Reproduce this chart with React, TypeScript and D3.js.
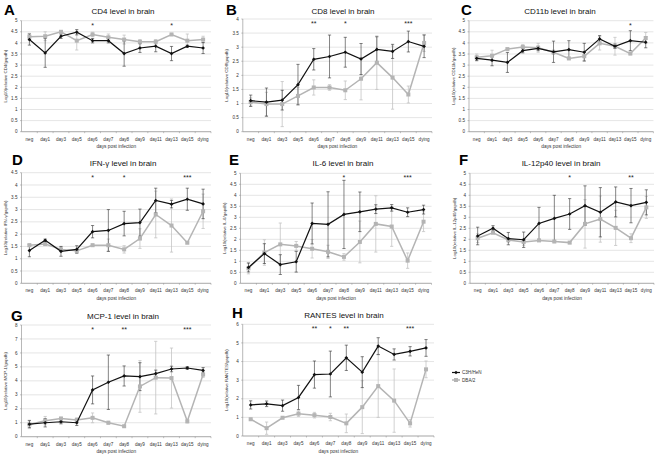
import React from "react";
import * as d3 from "d3";

const categories = ["neg", "day1", "day3", "day5", "day6", "day7", "day8", "day9", "day11", "day13", "day15", "dying"];
const seriesNames = ["C3H/HeN", "DBA/2"];

// A: CD4
const cd4C3H = [4.15, 3.55, 4.3, 4.48, 4.1, 4.1, 3.52, 3.77, 3.85, 3.52, 3.85, 3.77];
const cd4C3HErr = [0.25, 0.65, 0.1, 0.12, 0.1, 0.1, 0.57, 0.2, 0.25, 0.32, 0.05, 0.25];
const cd4DBA = [4.28, 4.3, 4.5, 4.1, 4.38, 4.25, 4.15, 4.05, 4.05, 4.38, 4.1, 4.15];
const cd4DBAErr = [0.15, 0.2, 0.05, 0.42, 0.1, 0.15, 0.2, 0.1, 0.1, 0.05, 0.3, 0.15];
const cd4Stars = ["", "", "", "", "*", "", "", "", "", "*", "", ""];

// B: CD8
const cd8C3H = [1.1, 1.05, 1.12, 1.67, 2.57, 2.67, 2.82, 2.58, 2.92, 2.85, 3.2, 3.03];
const cd8C3HErr = [0.2, 0.5, 0.35, 0.72, 0.38, 0.76, 0.53, 0.55, 0.45, 0.25, 0.37, 0.4];
const cd8DBA = [1.05, 0.98, 0.98, 1.27, 1.57, 1.57, 1.47, 1.88, 2.45, 1.92, 1.32, 3.15];
const cd8DBAErr = [0.15, 0.42, 0.8, 0.3, 0.27, 0.1, 0.33, 0.75, 0.95, 1.12, 0.3, 0.3];
const cd8Stars = ["", "", "", "", "**", "", "*", "", "", "", "***", ""];

// C: CD11b
const cd11bC3H = [3.3, 3.22, 3.12, 3.65, 3.75, 3.6, 3.7, 3.58, 4.18, 3.85, 4.1, 4.03];
const cd11bC3HErr = [0.1, 0.25, 0.45, 0.1, 0.1, 0.48, 0.4, 0.4, 0.15, 0.1, 0.45, 0.25];
const cd11bDBA = [3.35, 3.42, 3.72, 3.82, 3.78, 3.58, 3.3, 3.4, 3.98, 3.85, 3.52, 4.22];
const cd11bDBAErr = [0.15, 0.25, 0.05, 0.1, 0.2, 0.1, 0.05, 0.2, 0.3, 0.4, 0.05, 0.25];
const cd11bStars = ["", "", "", "", "", "", "", "", "", "", "*", ""];

// D: IFN-γ
const ifnC3H = [1.33, 1.75, 1.3, 1.38, 2.1, 2.15, 2.43, 2.47, 3.37, 3.22, 3.42, 3.23];
const ifnC3HErr = [0.25, 0.05, 0.2, 0.15, 0.25, 0.85, 0.5, 0.55, 0.5, 0.15, 0.45, 0.6];
const ifnDBA = [1.55, 1.6, 1.38, 1.32, 1.55, 1.55, 1.38, 1.82, 2.8, 2.35, 1.65, 2.93];
const ifnDBAErr = [0.05, 0.05, 0.1, 0.1, 0.05, 0.25, 0.15, 0.4, 0.95, 1.08, 0.03, 0.7];
const ifnStars = ["", "", "", "", "*", "", "*", "", "", "", "***", ""];

// E: IL-6
const il6C3H = [0.72, 1.35, 0.85, 0.98, 2.72, 2.68, 3.13, 3.25, 3.37, 3.43, 3.23, 3.35];
const il6C3HErr = [0.2, 0.45, 0.45, 0.47, 0.93, 1.48, 1.55, 0.9, 0.2, 0.15, 0.2, 0.2];
const il6DBA = [0.68, 1.4, 1.77, 1.7, 1.57, 1.43, 1.2, 1.88, 2.7, 2.58, 1.03, 2.8];
const il6DBAErr = [0.25, 0.58, 0.97, 0.2, 0.42, 0.3, 0.15, 0.95, 1.28, 0.9, 0.35, 0.45];
const il6Stars = ["", "", "", "", "", "", "*", "", "", "", "***", ""];

// F: IL-12p40
const il12C3H = [2.15, 2.5, 2.03, 1.98, 2.72, 2.95, 3.15, 3.53, 3.23, 3.7, 3.53, 3.68];
const il12C3HErr = [0.4, 0.12, 0.28, 0.35, 0.73, 1.05, 0.7, 0.9, 1.12, 0.68, 0.78, 0.57];
const il12DBA = [2.05, 2.3, 1.97, 1.88, 1.95, 1.9, 1.85, 2.7, 2.92, 2.52, 2.05, 3.45];
const il12DBAErr = [0.2, 0.05, 0.1, 0.15, 0.05, 0.05, 0.05, 1.1, 1.05, 0.8, 0.2, 0.5];
const il12Stars = ["", "", "", "", "", "", "*", "", "", "", "**", ""];

// G: MCP-1
const mcpC3H = [0.9, 1.0, 1.07, 1.0, 3.35, 3.9, 4.35, 4.3, 4.52, 4.85, 4.92, 4.75];
const mcpC3HErr = [0.25, 0.3, 0.15, 0.2, 1.0, 1.95, 0.72, 1.0, 0.25, 0.2, 0.1, 0.2];
const mcpDBA = [0.88, 1.15, 1.3, 1.2, 1.35, 1.0, 0.75, 3.6, 4.23, 4.2, 1.1, 4.45];
const mcpDBAErr = [0.3, 0.3, 0.1, 0.15, 0.35, 0.1, 0.05, 1.85, 2.6, 2.15, 0.1, 0.2];
const mcpStars = ["", "", "", "", "*", "", "**", "", "", "", "***", ""];

// H: RANTES
const rantesC3H = [1.67, 1.73, 1.63, 2.07, 3.3, 3.33, 4.2, 3.43, 4.83, 4.38, 4.55, 4.73];
const rantesC3HErr = [0.22, 0.15, 0.3, 0.65, 0.73, 1.23, 0.68, 0.83, 0.45, 0.3, 0.25, 0.45];
const rantesDBA = [0.9, 0.42, 0.98, 1.2, 1.12, 1.02, 0.68, 1.55, 2.68, 1.9, 0.68, 3.58];
const rantesDBAErr = [0.05, 0.33, 0.05, 0.15, 0.15, 0.2, 0.5, 1.42, 1.68, 1.7, 0.2, 0.45];
const rantesStars = ["", "", "", "", "**", "*", "**", "", "", "", "***", ""];

const panelLetters = ["A", "B", "C", "D", "E", "F", "G", "H"];
const panelTitles = [
  "CD4 level in brain", "CD8 level in brain", "CD11b level in brain",
  "IFN-γ level in brain", "IL-6 level in brain", "IL-12p40 level in brain",
  "MCP-1 level in brain", "RANTES level in brain",
];
const panelYLabels = [
  "Log10(relative CD4/gapdh)", "Log10(relative CD8/gapdh)", "Log10(relative CD11b/gapdh)",
  "Log10(relative IFN-γ/gapdh)", "Log10(relative IL-6/gapdh)", "Log10(relative IL-12p40/gapdh)",
  "Log10(relative MCP-1/gapdh)", "Log10(relative RANTES/gapdh)",
];
const panelYMax = [5, 4, 5, 4.5, 5, 5, 8, 6];
const panelYStep = [0.5, 0.5, 0.5, 0.5, 0.5, 0.5, 1, 1];

const panelData = [
  { c3h: cd4C3H, c3hErr: cd4C3HErr, dba: cd4DBA, dbaErr: cd4DBAErr, stars: cd4Stars },
  { c3h: cd8C3H, c3hErr: cd8C3HErr, dba: cd8DBA, dbaErr: cd8DBAErr, stars: cd8Stars },
  { c3h: cd11bC3H, c3hErr: cd11bC3HErr, dba: cd11bDBA, dbaErr: cd11bDBAErr, stars: cd11bStars },
  { c3h: ifnC3H, c3hErr: ifnC3HErr, dba: ifnDBA, dbaErr: ifnDBAErr, stars: ifnStars },
  { c3h: il6C3H, c3hErr: il6C3HErr, dba: il6DBA, dbaErr: il6DBAErr, stars: il6Stars },
  { c3h: il12C3H, c3hErr: il12C3HErr, dba: il12DBA, dbaErr: il12DBAErr, stars: il12Stars },
  { c3h: mcpC3H, c3hErr: mcpC3HErr, dba: mcpDBA, dbaErr: mcpDBAErr, stars: mcpStars },
  { c3h: rantesC3H, c3hErr: rantesC3HErr, dba: rantesDBA, dbaErr: rantesDBAErr, stars: rantesStars },
];

// layout: plot rectangles (left, right, top, bottom) and letter/title positions
const layouts = [
  { l: 21.5, r: 211, t: 20.7, b: 131.7, lx: 4, ly: 15, tx: 123, ty: 14 },
  { l: 242.8, r: 432, t: 19, b: 131.7, lx: 226, ly: 15, tx: 343, ty: 14 },
  { l: 469, r: 653.4, t: 20.7, b: 131.7, lx: 461, ly: 15, tx: 560, ty: 14 },
  { l: 21.5, r: 211, t: 172.7, b: 283.3, lx: 12, ly: 165, tx: 123, ty: 166 },
  { l: 240.5, r: 431.5, t: 173.3, b: 283.3, lx: 229, ly: 165, tx: 343, ty: 166 },
  { l: 470, r: 654, t: 173.3, b: 283.3, lx: 459, ly: 165, tx: 561, ty: 166 },
  { l: 21.5, r: 211, t: 325, b: 436.7, lx: 11, ly: 321, tx: 123, ty: 319 },
  { l: 242.7, r: 434, t: 324.3, b: 436, lx: 232, ly: 318, tx: 344, ty: 318 },
];

const FONT = "'Liberation Sans', Arial, sans-serif";
const BLACK = "#111";
const GRAY = "#b4b4b4";

function Panel({ idx }: { idx: number }) {
  const L = layouts[idx];
  const D = panelData[idx];
  const x = d3.scaleBand<string>().domain(categories).range([L.l, L.r]);
  const y = d3.scaleLinear().domain([0, panelYMax[idx]]).range([L.b, L.t]);
  const ticks = d3.range(0, panelYMax[idx] + 1e-9, panelYStep[idx]);
  const cx = (c: string) => (x(c) as number) + x.bandwidth() / 2;
  const line = d3.line<number>().x((_, i) => cx(categories[i])).y((v) => y(v));
  const cap = 1.6;

  const errBars = (vals: number[], errs: number[], color: string, w: number) =>
    vals.map((v, i) => {
      const X = cx(categories[i]);
      const y1 = y(v - errs[i]);
      const y2 = y(v + errs[i]);
      return (
        <g key={i} stroke={color} strokeWidth={w}>
          <line x1={X} x2={X} y1={y1} y2={y2} />
          <line x1={X - cap} x2={X + cap} y1={y1} y2={y1} />
          <line x1={X - cap} x2={X + cap} y1={y2} y2={y2} />
        </g>
      );
    });

  return (
    <g>
      <text x={L.lx} y={L.ly} fontFamily={FONT} fontWeight="bold" fontSize={15} fill="#000">
        {panelLetters[idx]}
      </text>
      <text x={L.tx} y={L.ty} fontFamily={FONT} fontSize={8} textAnchor="middle" fill="#111">
        {panelTitles[idx]}
      </text>
      {ticks.map((t) => (
        <g key={t}>
          <line x1={L.l} x2={L.r} y1={y(t)} y2={y(t)} stroke="#d4d4d4" strokeWidth={0.6} />
          <text x={L.l - 4} y={y(t) + 1.6} fontFamily={FONT} fontSize={4.6} textAnchor="end" fill="#333">
            {String(+t.toFixed(1))}
          </text>
          <line x1={L.l - 1.5} x2={L.l} y1={y(t)} y2={y(t)} stroke="#888" strokeWidth={0.5} />
        </g>
      ))}
      <line x1={L.l} x2={L.l} y1={L.t} y2={L.b} stroke="#888" strokeWidth={0.6} />
      <line x1={L.l} x2={L.r} y1={L.b} y2={L.b} stroke="#888" strokeWidth={0.6} />
      {categories.map((c) => (
        <g key={c}>
          <line x1={(x(c) as number) + x.bandwidth()} x2={(x(c) as number) + x.bandwidth()} y1={L.b} y2={L.b + 1.5} stroke="#888" strokeWidth={0.5} />
          <text x={cx(c)} y={L.b + 9} fontFamily={FONT} fontSize={4.6} textAnchor="middle" fill="#333">
            {c}
          </text>
        </g>
      ))}
      <text x={(L.l + L.r) / 2} y={L.b + 16.5} fontFamily={FONT} fontSize={4.8} textAnchor="middle" fill="#333">
        days post infection
      </text>
      <text
        transform={`translate(${L.l - 14.5},${(L.t + L.b) / 2}) rotate(-90)`}
        fontFamily={FONT}
        fontSize={4.4}
        textAnchor="middle"
        fill="#333"
      >
        {panelYLabels[idx]}
      </text>
      {errBars(D.dba, D.dbaErr, "#c4c4c4", 0.8)}
      {errBars(D.c3h, D.c3hErr, "#333", 0.6)}
      <path d={line(D.dba) || ""} fill="none" stroke={GRAY} strokeWidth={1.5} />
      {D.dba.map((v, i) => (
        <rect key={i} x={cx(categories[i]) - 2} y={y(v) - 2} width={4} height={4} fill={GRAY} />
      ))}
      <path d={line(D.c3h) || ""} fill="none" stroke={BLACK} strokeWidth={1.2} />
      {D.c3h.map((v, i) => (
        <rect
          key={i}
          x={-1.3}
          y={-1.3}
          width={2.6}
          height={2.6}
          fill={BLACK}
          transform={`translate(${cx(categories[i])},${y(v)}) rotate(45)`}
        />
      ))}
      {D.stars.map((s, i) =>
        s ? (
          <text key={i} x={cx(categories[i])} y={L.t + 7} fontFamily={FONT} fontSize={7} textAnchor="middle" fill="#222">
            {s}
          </text>
        ) : null
      )}
    </g>
  );
}

export default function App() {
  return (
    <svg width={661} height={459} style={{ display: "block", position: "absolute", left: 0, top: 0 }}>
      <rect width={661} height={459} fill="#fff" />
      {layouts.map((_, i) => (
        <Panel key={i} idx={i} />
      ))}
      <g fontFamily={FONT} fontSize={4.6} fill="#333">
        <line x1={452} x2={460} y1={372.5} y2={372.5} stroke={BLACK} strokeWidth={1.2} />
        <rect x={-1.3} y={-1.3} width={2.6} height={2.6} fill={BLACK} transform="translate(456,372.5) rotate(45)" />
        <text x={462} y={374.2}>{seriesNames[0]}</text>
        <line x1={452} x2={460} y1={380} y2={380} stroke={GRAY} strokeWidth={1.5} />
        <rect x={454} y={378} width={4} height={4} fill={GRAY} />
        <text x={462} y={381.7}>{seriesNames[1]}</text>
      </g>
    </svg>
  );
}
